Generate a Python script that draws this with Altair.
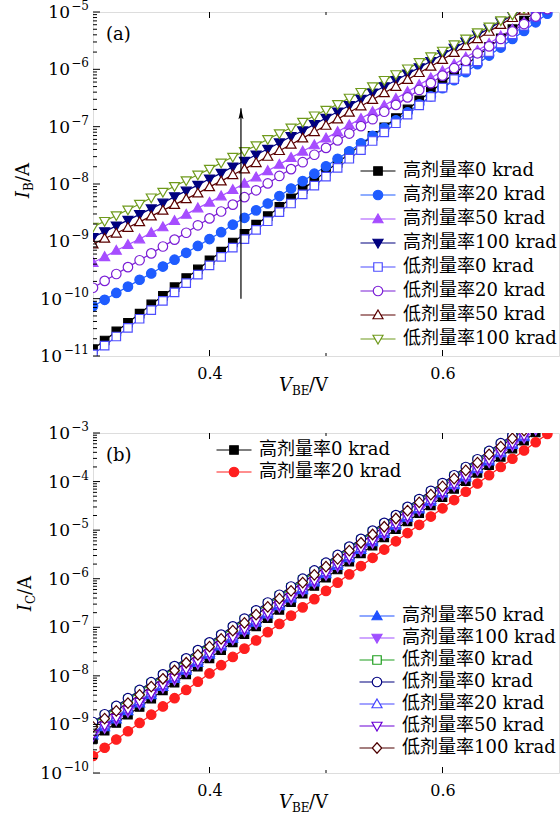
import altair as alt
import pandas as pd

# ---------------- data (log10 of current in A) ----------------
V = [0.30, 0.31, 0.32, 0.33, 0.34, 0.35, 0.36, 0.37, 0.38, 0.39,
     0.40, 0.41, 0.42, 0.43, 0.44, 0.45, 0.46, 0.47, 0.48, 0.49,
     0.50, 0.51, 0.52, 0.53, 0.54, 0.55, 0.56, 0.57, 0.58, 0.59,
     0.60, 0.61, 0.62, 0.63, 0.64, 0.65, 0.66, 0.67, 0.68, 0.69, 0.70]

# panel (a): I_B
IB_H0 = [-10.88, -10.73, -10.57, -10.42, -10.26, -10.10, -9.95, -9.80, -9.64, -9.49,
         -9.33, -9.18, -9.02, -8.87, -8.71, -8.56, -8.40, -8.25, -8.09, -7.94,
         -7.78, -7.63, -7.47, -7.32, -7.16, -7.01, -6.85, -6.70, -6.54, -6.39,
         -6.23, -6.08, -5.92, -5.77, -5.61, -5.46, -5.30, -5.15, -4.99]
IB_H20 = [-10.13, -10.02, -9.90, -9.79, -9.67, -9.56, -9.44, -9.32, -9.20, -9.08,
          -8.96, -8.84, -8.71, -8.59, -8.46, -8.34, -8.21, -8.08, -7.95, -7.82,
          -7.69, -7.56, -7.43, -7.29, -7.16, -7.02, -6.89, -6.75, -6.61, -6.47,
          -6.33, -6.19, -6.05, -5.91, -5.76, -5.62, -5.47, -5.33, -5.18, -5.03]
IB_H50 = [-9.37, -9.27, -9.16, -9.06, -8.96, -8.85, -8.75, -8.64, -8.53, -8.42,
          -8.32, -8.21, -8.10, -7.99, -7.88, -7.77, -7.66, -7.54, -7.43, -7.32,
          -7.20, -7.09, -6.97, -6.86, -6.74, -6.63, -6.51, -6.39, -6.27, -6.15,
          -6.03, -5.91, -5.79, -5.67, -5.55, -5.42, -5.30, -5.18, -5.05, -4.93]
IB_H100 = [-8.93, -8.83, -8.73, -8.63, -8.53, -8.43, -8.33, -8.22, -8.12, -8.02,
           -7.91, -7.81, -7.70, -7.60, -7.49, -7.39, -7.28, -7.17, -7.07, -6.96,
           -6.85, -6.74, -6.63, -6.52, -6.41, -6.30, -6.19, -6.08, -5.97, -5.86,
           -5.74, -5.63, -5.52, -5.40, -5.29, -5.17, -5.06, -4.94]
IB_L0 = [-10.97, -10.82, -10.66, -10.51, -10.35, -10.20, -10.04, -9.89, -9.73, -9.58,
         -9.42, -9.27, -9.11, -8.96, -8.80, -8.65, -8.49, -8.34, -8.18, -8.03,
         -7.87, -7.72, -7.56, -7.41, -7.25, -7.10, -6.94, -6.79, -6.63, -6.48,
         -6.32, -6.17, -6.01, -5.86, -5.70, -5.55, -5.39, -5.24, -5.08, -4.93]
IB_L20 = [-9.81, -9.69, -9.57, -9.45, -9.33, -9.21, -9.09, -8.97, -8.85, -8.72,
          -8.60, -8.48, -8.36, -8.23, -8.11, -7.99, -7.86, -7.74, -7.62, -7.49,
          -7.37, -7.24, -7.12, -6.99, -6.87, -6.74, -6.62, -6.49, -6.36, -6.24,
          -6.11, -5.98, -5.85, -5.72, -5.60, -5.47, -5.34, -5.21, -5.08, -4.95]
IB_L50 = [-9.05, -8.95, -8.86, -8.76, -8.66, -8.56, -8.46, -8.36, -8.26, -8.16,
          -8.05, -7.95, -7.84, -7.74, -7.63, -7.52, -7.42, -7.31, -7.20, -7.09,
          -6.98, -6.87, -6.75, -6.64, -6.53, -6.41, -6.30, -6.18, -6.06, -5.95,
          -5.83, -5.71, -5.59, -5.47, -5.34, -5.22, -5.10, -4.97]
IB_L100 = [-8.75, -8.65, -8.55, -8.45, -8.35, -8.24, -8.14, -8.04, -7.94, -7.84,
           -7.74, -7.63, -7.53, -7.43, -7.33, -7.22, -7.12, -7.02, -6.92, -6.81,
           -6.71, -6.61, -6.50, -6.40, -6.30, -6.19, -6.09, -5.99, -5.88, -5.78,
           -5.68, -5.57, -5.47, -5.36, -5.26, -5.15, -5.05, -4.94]

# panel (b): I_C
IC_H0 = [-9.30, -9.13, -8.97, -8.80, -8.64, -8.47, -8.30, -8.14, -7.97, -7.81,
         -7.64, -7.47, -7.31, -7.14, -6.98, -6.81, -6.64, -6.48, -6.31, -6.15,
         -5.98, -5.81, -5.65, -5.48, -5.32, -5.15, -4.98, -4.82, -4.65, -4.49,
         -4.32, -4.15, -3.99, -3.82, -3.66, -3.49, -3.32, -3.16, -2.99]
IC_H20 = [-9.65, -9.48, -9.31, -9.14, -8.97, -8.80, -8.63, -8.46, -8.29, -8.12,
          -7.95, -7.78, -7.61, -7.44, -7.27, -7.10, -6.93, -6.76, -6.59, -6.42,
          -6.25, -6.08, -5.91, -5.74, -5.57, -5.40, -5.23, -5.06, -4.89, -4.72,
          -4.55, -4.38, -4.21, -4.04, -3.87, -3.70, -3.53, -3.36, -3.19, -3.02]
IC_H50 = [-9.22, -9.05, -8.89, -8.72, -8.56, -8.39, -8.22, -8.06, -7.89, -7.73,
          -7.56, -7.39, -7.23, -7.06, -6.90, -6.73, -6.56, -6.40, -6.23, -6.07,
          -5.90, -5.73, -5.57, -5.40, -5.24, -5.07, -4.90, -4.74, -4.57, -4.41,
          -4.24, -4.07, -3.91, -3.74, -3.58, -3.41, -3.24, -3.08]
IC_H100 = [-9.25, -9.08, -8.92, -8.75, -8.59, -8.42, -8.25, -8.09, -7.92, -7.76,
           -7.59, -7.42, -7.26, -7.09, -6.93, -6.76, -6.59, -6.43, -6.26, -6.10,
           -5.93, -5.76, -5.60, -5.43, -5.27, -5.10, -4.93, -4.77, -4.60, -4.44,
           -4.27, -4.10, -3.94, -3.77, -3.61, -3.44, -3.27, -3.11, -2.94]
IC_L0A = [-8.98, -8.82, -8.65, -8.49, -8.32, -8.16, -8.00, -7.83, -7.67, -7.50,
          -7.34, -7.18, -7.01, -6.85, -6.68, -6.52, -6.36, -6.19, -6.03, -5.86,
          -5.70, -5.54, -5.37, -5.21, -5.04, -4.88, -4.72, -4.55, -4.39, -4.22,
          -4.06, -3.90, -3.73, -3.57, -3.40, -3.24, -3.08, -2.91]
IC_L0B = [-8.95, -8.79, -8.62, -8.46, -8.29, -8.13, -7.97, -7.80, -7.64, -7.47,
          -7.31, -7.15, -6.98, -6.82, -6.65, -6.49, -6.33, -6.16, -6.00, -5.83,
          -5.67, -5.51, -5.34, -5.18, -5.01, -4.85, -4.69, -4.52, -4.36, -4.19,
          -4.03, -3.87, -3.70, -3.54, -3.37, -3.21, -3.05, -2.88]
IC_L20 = [-9.17, -9.00, -8.84, -8.67, -8.51, -8.34, -8.18, -8.01, -7.85, -7.68,
          -7.52, -7.35, -7.18, -7.02, -6.85, -6.69, -6.52, -6.36, -6.19, -6.03,
          -5.86, -5.69, -5.53, -5.36, -5.20, -5.03, -4.87, -4.70, -4.54, -4.37,
          -4.21, -4.04, -3.87, -3.71, -3.54, -3.38, -3.21, -3.05, -2.88]
IC_L50 = [-9.20, -9.03, -8.87, -8.70, -8.54, -8.37, -8.20, -8.04, -7.87, -7.71,
          -7.54, -7.37, -7.21, -7.04, -6.88, -6.71, -6.54, -6.38, -6.21, -6.05,
          -5.88, -5.71, -5.55, -5.38, -5.22, -5.05, -4.88, -4.72, -4.55, -4.39,
          -4.22, -4.05, -3.89, -3.72, -3.56, -3.39, -3.22, -3.06, -2.89]
IC_L100 = [-9.05, -8.88, -8.72, -8.56, -8.39, -8.22, -8.06, -7.89, -7.73, -7.57,
           -7.40, -7.24, -7.07, -6.91, -6.74, -6.58, -6.41, -6.25, -6.08, -5.92,
           -5.75, -5.59, -5.42, -5.26, -5.09, -4.93, -4.76, -4.60, -4.43, -4.27,
           -4.10, -3.94, -3.77, -3.61, -3.44, -3.28, -3.11, -2.95]

LABELS_A = ["高剂量率0 krad", "高剂量率20 krad", "高剂量率50 krad", "高剂量率100 krad",
            "低剂量率0 krad", "低剂量率20 krad", "低剂量率50 krad", "低剂量率100 krad"]
LABELS_B = ["高剂量率0 krad", "高剂量率20 krad", "高剂量率50 krad", "高剂量率100 krad",
            "低剂量率0 krad", "低剂量率0 krad", "低剂量率20 krad", "低剂量率50 krad",
            "低剂量率100 krad"]

X_DOMAIN = [0.3, 0.7]
X_TICKS = [0.4, 0.6]
X_MINOR = [0.5]
YA_DECADES = [1e-11, 1e-10, 1e-9, 1e-8, 1e-7, 1e-6, 1e-5]
YA_EXP = ["−11", "−10", "−9", "−8", "−7", "−6", "−5"]
YB_DECADES = [1e-10, 1e-9, 1e-8, 1e-7, 1e-6, 1e-5, 1e-4, 1e-3]
YB_EXP = ["−10", "−9", "−8", "−7", "−6", "−5", "−4", "−3"]
ARROW_V = [0.427]
ARROW_I = [1.0e-10, 2.1e-7]

# ---------------- styles ----------------
SERIF = "DejaVu Serif"
LFONT = "'DejaVu Serif', 'Noto Sans CJK SC'"

MARK = {
    "square": "M-0.85,-0.85H0.85V0.85H-0.85Z",
    "circle": "M0.95,0A0.95,0.95,0,1,1,-0.95,0A0.95,0.95,0,1,1,0.95,0Z",
    "up": "M0,-1L1,0.75L-1,0.75Z",
    "down": "M0,1L1,-0.75L-1,-0.75Z",
    "diamond": "M0,-1.05L0.95,0L0,1.05L-0.95,0Z",
}
STUB = {"square": 0.85, "circle": 0.95, "up": 0.57, "down": 0.57, "diamond": 0.95}
LEG = {k: f"M-3.5,0H-{STUB[k]}M{STUB[k]},0H3.5" + MARK[k] for k in MARK}

STYLE_A = [("#000000", "square", True), ("#1f5cff", "circle", True),
           ("#a64dff", "up", True), ("#00007f", "down", True),
           ("#4d4dff", "square", False), ("#7a1ed6", "circle", False),
           ("#5a0000", "up", False), ("#6f9a1c", "down", False)]
STYLE_B = [("#000000", "square", True), ("#ff1f1f", "circle", True),
           ("#1f50ff", "up", True), ("#9f4fff", "down", True),
           ("#1e9e1e", "square", False), ("#00007f", "circle", False),
           ("#4646ff", "up", False), ("#6a00d5", "down", False),
           ("#4d0000", "diamond", False)]

W = 466
ONE = pd.DataFrame({"z": [0]})


def build(values, labels, styles):
    rows = []
    for i, (vals, lab, (col, shp, filled)) in enumerate(zip(values, labels, styles)):
        for v, lv in zip(V, vals):
            rows.append({"key": f"{i}|{lab}", "V": v, "I": 10 ** lv, "color": col,
                         "shape": MARK[shp], "fillc": col if filled else "white"})
    return pd.DataFrame(rows)


def legend_layer(labels, styles, idx, lx, ly, rowpad):
    keys = [f"{i}|{labels[i]}" for i in idx]
    leg = alt.Legend(orient="none", legendX=lx, legendY=ly, title=None,
                     labelExpr="split(datum.label, '|')[1]", labelFont=LFONT,
                     labelFontSize=18, labelColor="black", labelOffset=16,
                     labelLimit=400, rowPadding=rowpad, padding=0,
                     symbolSize=100, symbolStrokeWidth=1.2, symbolOpacity=1)
    dummy = pd.DataFrame({"V": [0.5], "I": [1e-7], "lk": [keys[0]]})
    return alt.Chart(dummy).transform_filter("false").mark_point(
        opacity=1, filled=False, strokeWidth=1.2).encode(
        x="V:Q", y="I:Q",
        shape=alt.Shape("lk:N", scale=alt.Scale(domain=keys, range=[LEG[styles[i][1]] for i in idx]), legend=leg),
        stroke=alt.Stroke("lk:N", scale=alt.Scale(domain=keys, range=[styles[i][0] for i in idx]), legend=leg),
        fill=alt.Fill("lk:N", scale=alt.Scale(domain=keys,
                      range=[styles[i][0] if styles[i][2] else "white" for i in idx]), legend=leg),
    )


def text(t, x, y, size=18, align="left", dx=0, dy=0, angle=0, style="normal"):
    return alt.Chart(ONE).mark_text(text=t, font=SERIF, fontSize=size, align=align,
                                    baseline="alphabetic", dx=dx, dy=dy, angle=angle,
                                    fontStyle=style, color="black").encode(
        x=alt.value(x), y=alt.value(y))


def ylabel_layers(decades, exps):
    df = pd.DataFrame({"I": decades, "e": exps, "n": [len(e) for e in exps]})
    exp_layer = alt.Chart(df).mark_text(font=SERIF, fontSize=12, align="right",
                                        baseline="middle", dy=-6, color="black").encode(
        y="I:Q", x=alt.value(-4), text="e:N")
    base2 = alt.Chart(df).transform_filter("datum.n == 2").mark_text(
        text="10", font=SERIF, fontSize=17, align="right", baseline="middle", dy=1,
        color="black").encode(y="I:Q", x=alt.value(-23))
    base3 = alt.Chart(df).transform_filter("datum.n == 3").mark_text(
        text="10", font=SERIF, fontSize=17, align="right", baseline="middle", dy=1,
        color="black").encode(y="I:Q", x=alt.value(-31))
    return [exp_layer, base2, base3]


def panel(values, labels, styles, decades, exps, h, legends, tag, ysub, ytitle_xy, extra=()):
    df = build(values, labels, styles)
    xs = alt.X("V:Q", scale=alt.Scale(domain=X_DOMAIN, nice=False, zero=False),
               axis=alt.Axis(values=X_TICKS, format=".1f", ticks=False, domain=False, grid=False,
                             title=None, labelFont=SERIF, labelFontSize=16, labelPadding=9,
                             labelColor="black", labelFlush=False))
    ys = alt.Y("I:Q", scale=alt.Scale(type="log", domain=[decades[0], decades[-1]], nice=False),
               axis=None)
    lines = alt.Chart(df).mark_line(clip=True, strokeWidth=1.2).encode(
        x=xs, y=ys, stroke=alt.Stroke("color:N", scale=None), detail="key:N")
    points = alt.Chart(df).mark_point(clip=True, size=100, strokeWidth=1.2, opacity=1,
                                      filled=False).encode(
        x="V:Q", y="I:Q", shape=alt.Shape("shape:N", scale=None),
        stroke=alt.Stroke("color:N", scale=None), fill=alt.Fill("fillc:N", scale=None))
    minor = [m * d for d in decades[:-1] for m in range(2, 10)]
    ticks = [
        alt.Chart(pd.DataFrame({"I": decades})).mark_rule(color="black", strokeWidth=1).encode(
            y="I:Q", x=alt.value(0), x2=alt.value(7)),
        alt.Chart(pd.DataFrame({"I": minor})).mark_rule(color="black", strokeWidth=1).encode(
            y="I:Q", x=alt.value(0), x2=alt.value(4)),
        alt.Chart(pd.DataFrame({"V": X_TICKS})).mark_rule(color="black", strokeWidth=1).encode(
            x="V:Q", y=alt.value(h), y2=alt.value(h - 6)),
        alt.Chart(pd.DataFrame({"V": X_TICKS})).mark_rule(color="black", strokeWidth=1).encode(
            x="V:Q", y=alt.value(0), y2=alt.value(6)),
        alt.Chart(pd.DataFrame({"V": X_MINOR})).mark_rule(color="black", strokeWidth=1).encode(
            x="V:Q", y=alt.value(h), y2=alt.value(h - 3)),
        alt.Chart(pd.DataFrame({"V": X_MINOR})).mark_rule(color="black", strokeWidth=1).encode(
            x="V:Q", y=alt.value(0), y2=alt.value(3)),
    ]
    tx, ty = ytitle_xy
    texts = [
        text(tag, 13, 28),
        text("I", tx, ty, align="right", angle=270, style="italic"),
        text(ysub, tx, ty, size=12, dy=4, angle=270),
        text("/A", tx, ty, dx=9, angle=270),
        text("V", 199, h + 35, align="right", style="italic"),
        text("BE", 199, h + 35, size=12, dy=4),
        text("/V", 199, h + 35, dx=17),
    ]
    legs = [legend_layer(labels, styles, *g) for g in legends]
    layer = alt.layer(lines, points, *ticks, *ylabel_layers(decades, exps), *extra, *legs,
                      *texts).resolve_scale(shape="independent", stroke="independent",
                                            fill="independent")
    return layer.properties(width=W, height=h)


arrow_df = pd.DataFrame({"V": ARROW_V, "I1": [ARROW_I[0]], "I2": [ARROW_I[1]]})
arrow = [
    alt.Chart(arrow_df).mark_rule(color="black", strokeWidth=1.2).encode(
        x="V:Q", y="I1:Q", y2="I2:Q"),
    alt.Chart(arrow_df).mark_point(shape="M0,0L0.5,2.2L0,1.8L-0.5,2.2Z", size=100, filled=True,
                                   color="black", opacity=1).encode(x="V:Q", y="I2:Q"),
]

top = panel([IB_H0, IB_H20, IB_H50, IB_H100, IB_L0, IB_L20, IB_L50, IB_L100],
            LABELS_A, STYLE_A, YA_DECADES, YA_EXP, 344,
            [(list(range(8)), 276, 150, 6)], "(a)", "B", (-64, 179), extra=arrow)
bottom = panel([IC_H0, IC_H20, IC_H50, IC_H100, IC_L0A, IC_L0B, IC_L20, IC_L50, IC_L100],
               LABELS_B, STYLE_B, YB_DECADES, YB_EXP, 340,
               [([0, 1], 132, 8, 4), (list(range(2, 9)), 275, 174, 4)], "(b)", "C", (-62, 171))

chart = alt.vconcat(top, bottom, spacing=22).properties(
    padding={"left": 14, "top": -1, "right": 0, "bottom": 0}
).configure_view(stroke="black", strokeWidth=1.3).configure(background="white")

chart.save("out.html", embed_options={"renderer": "svg", "actions": False})
